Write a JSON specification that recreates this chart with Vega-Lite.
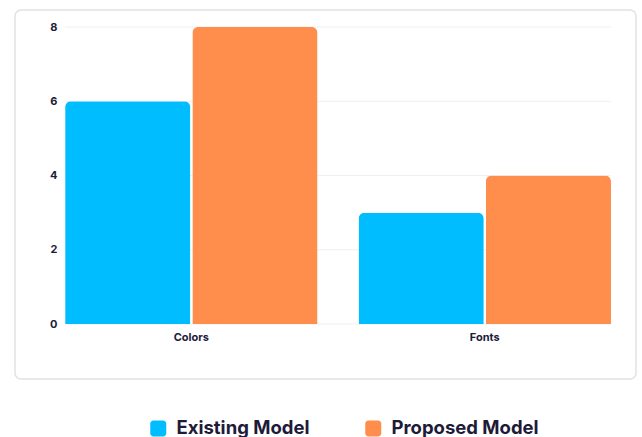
{
  "$schema": "https://vega.github.io/schema/vega-lite/v6.json",
  "width": 621,
  "height": 369,
  "padding": {"left": 15, "top": 10, "right": 5, "bottom": 5},
  "config": {
    "view": {"stroke": "#e2e2e2", "strokeWidth": 1.5, "cornerRadius": 6, "fill": "white"},
    "font": "Inter"
  },
  "datasets": {
    "bars": [
      {"category": "Colors", "series": "Existing Model", "value": 6},
      {"category": "Colors", "series": "Proposed Model", "value": 8},
      {"category": "Fonts", "series": "Existing Model", "value": 3},
      {"category": "Fonts", "series": "Proposed Model", "value": 4}
    ],
    "grid": [{"v": 0}, {"v": 2}, {"v": 4}, {"v": 6}, {"v": 8}]
  },
  "resolve": {"scale": {"x": "independent"}},
  "layer": [
    {
      "data": {"name": "grid"},
      "mark": {"type": "rule", "color": "#f0f0f3", "strokeWidth": 1},
      "encoding": {
        "x": {"datum": 0, "type": "quantitative", "scale": {"domain": [-0.0916, 1.0458], "nice": false, "zero": false}, "axis": null},
        "x2": {"datum": 1},
        "y": {
          "field": "v", "type": "quantitative",
          "scale": {"domain": [-1.48, 8.458], "nice": false, "zero": false},
          "axis": {"values": [0, 2, 4, 6, 8], "title": null, "grid": false, "domain": false, "ticks": false, "offset": -42, "labelPadding": 0, "labelFontSize": 11, "labelFontWeight": 700, "labelColor": "#1e1b39"}
        }
      }
    },
    {
      "data": {"name": "bars"},
      "mark": {"type": "bar", "cornerRadiusTopLeft": 6, "cornerRadiusTopRight": 6},
      "encoding": {
        "x": {
          "field": "category", "type": "nominal", "sort": ["Colors", "Fonts"],
          "scale": {"paddingInner": 0.14, "paddingOuter": 0.128, "align": 0.667},
          "axis": {"title": null, "orient": "bottom", "offset": -48, "ticks": false, "domain": false, "grid": false, "labelAngle": 0, "labelPadding": 0, "labelBaseline": "top", "labelFontSize": 11, "labelFontWeight": 700, "labelColor": "#1e1b39"}
        },
        "xOffset": {"field": "series", "type": "nominal", "sort": ["Existing Model", "Proposed Model"], "scale": {"paddingInner": 0.016}},
        "y": {
          "field": "value", "type": "quantitative",
          "scale": {"domain": [-1.48, 8.458], "nice": false, "zero": false},
          "axis": {"values": [0, 2, 4, 6, 8], "title": null, "grid": false, "domain": false, "ticks": false, "offset": -42, "labelPadding": 0, "labelFontSize": 11, "labelFontWeight": 700, "labelColor": "#1e1b39"}
        },
        "color": {
          "field": "series", "type": "nominal",
          "scale": {"domain": ["Existing Model", "Proposed Model"], "range": ["#00bdff", "#ff8e4c"]},
          "legend": {
            "title": null, "orient": "none", "legendX": 134, "legendY": 409, "padding": 0, "direction": "horizontal",
            "symbolType": "M-0.6,-1H0.6A0.4,0.4 0 0 1 1,-0.6V0.6A0.4,0.4 0 0 1 0.6,1H-0.6A0.4,0.4 0 0 1 -1,0.6V-0.6A0.4,0.4 0 0 1 -0.6,-1Z",
            "symbolSize": 256, "symbolStrokeWidth": 0, "symbolOpacity": 1,
            "labelFontSize": 18.5, "labelFontWeight": 700, "labelColor": "#1e1b39", "labelOffset": 9, "columnPadding": 54, "labelLimit": 300
          }
        }
      }
    }
  ]
}
